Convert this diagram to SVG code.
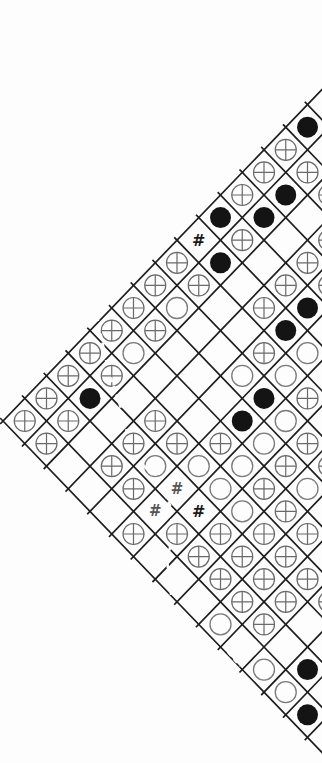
<svg xmlns="http://www.w3.org/2000/svg" xmlns:xlink="http://www.w3.org/1999/xlink" width="322" height="763" viewBox="0 0 322 763">
<style>
.gl{stroke:#1e1e1e;stroke-width:1.7;fill:none;vector-effect:non-scaling-stroke;stroke-linecap:square}
.xc{fill:none;stroke:#6a6a6a;stroke-width:1.2}
.oc{fill:none;stroke:#7a7a7a;stroke-width:1.3}
.fc{fill:#141414}
.hs{font-family:"DejaVu Sans",sans-serif;font-weight:bold;font-size:16px;fill:#1a1a1a;text-anchor:middle;dominant-baseline:central}
.hs2{font-family:"DejaVu Sans",sans-serif;font-weight:bold;font-size:15px;fill:#555;text-anchor:middle;dominant-baseline:central}
.wd{fill:none;stroke:#fdfdfd;stroke-width:2.6;stroke-dasharray:5 4}
</style>
<defs>
<g id="x"><circle r="10.5" class="xc"/><path d="M-10.5 0H10.5M0 -10.5V10.5" class="xc"/></g>
<circle id="o" r="10.5" class="oc"/>
<circle id="f" r="10.5" class="fc"/>
</defs>
<rect width="322" height="763" fill="#fdfdfd"/>
<g id="grid" transform="matrix(21.75,-22.6,21.75,22.6,3,421)">
<path class="gl" d="M-0.1 0H16M-0.1 1H16M-0.1 2H16M-0.1 3H16M-0.1 4H16M-0.1 5H16M-0.1 6H16M-0.1 7H16M-0.1 8H16M-0.1 9H16M-0.1 10H16M-0.1 11H16M-0.1 12H16M-0.1 13H16M-0.1 14H16M-0.1 15H16"/>
<path class="gl" d="M0 -0.1V16M1 -0.1V16M2 -0.1V16M3 -0.1V16M4 -0.1V16M5 -0.1V16M6 -0.1V16M7 -0.1V16M8 -0.1V16M9 -0.1V16M10 -0.1V16M11 -0.1V16M12 -0.1V16M13 -0.1V16M14 -0.1V16M15 -0.1V16"/>
</g>
<g id="crossed">
<use href="#x" x="24.75" y="421"/>
<use href="#x" x="46.5" y="398.4"/>
<use href="#x" x="46.5" y="443.6"/>
<use href="#x" x="68.25" y="375.8"/>
<use href="#x" x="68.25" y="421"/>
<use href="#x" x="90" y="353.2"/>
<use href="#x" x="111.75" y="330.6"/>
<use href="#x" x="111.75" y="375.8"/>
<use href="#x" x="111.75" y="466.2"/>
<use href="#x" x="133.5" y="308"/>
<use href="#x" x="133.5" y="443.6"/>
<use href="#x" x="133.5" y="488.8"/>
<use href="#x" x="133.5" y="534"/>
<use href="#x" x="155.25" y="285.4"/>
<use href="#x" x="155.25" y="330.6"/>
<use href="#x" x="155.25" y="421"/>
<use href="#x" x="177" y="262.8"/>
<use href="#x" x="177" y="443.6"/>
<use href="#x" x="177" y="534"/>
<use href="#x" x="198.75" y="285.4"/>
<use href="#x" x="198.75" y="556.6"/>
<use href="#x" x="220.5" y="443.6"/>
<use href="#x" x="220.5" y="534"/>
<use href="#x" x="220.5" y="579.2"/>
<use href="#x" x="242.25" y="195"/>
<use href="#x" x="242.25" y="240.2"/>
<use href="#x" x="242.25" y="556.6"/>
<use href="#x" x="242.25" y="601.8"/>
<use href="#x" x="264" y="172.4"/>
<use href="#x" x="264" y="308"/>
<use href="#x" x="264" y="353.2"/>
<use href="#x" x="264" y="488.8"/>
<use href="#x" x="264" y="534"/>
<use href="#x" x="264" y="579.2"/>
<use href="#x" x="264" y="624.4"/>
<use href="#x" x="285.75" y="149.8"/>
<use href="#x" x="285.75" y="285.4"/>
<use href="#x" x="285.75" y="466.2"/>
<use href="#x" x="285.75" y="511.4"/>
<use href="#x" x="285.75" y="556.6"/>
<use href="#x" x="285.75" y="601.8"/>
<use href="#x" x="307.5" y="172.4"/>
<use href="#x" x="307.5" y="262.8"/>
<use href="#x" x="307.5" y="398.4"/>
<use href="#x" x="307.5" y="443.6"/>
<use href="#x" x="307.5" y="534"/>
<use href="#x" x="307.5" y="579.2"/>
<use href="#x" x="329.25" y="195"/>
<use href="#x" x="329.25" y="240.2"/>
<use href="#x" x="329.25" y="285.4"/>
<use href="#x" x="329.25" y="466.2"/>
<use href="#x" x="329.25" y="601.8"/>
</g>
<g id="open">
<use href="#o" x="133.5" y="353.2"/>
<use href="#o" x="177" y="308"/>
<use href="#o" x="155.25" y="466.2"/>
<use href="#o" x="198.75" y="466.2"/>
<use href="#o" x="242.25" y="375.8"/>
<use href="#o" x="242.25" y="466.2"/>
<use href="#o" x="220.5" y="488.8"/>
<use href="#o" x="242.25" y="511.4"/>
<use href="#o" x="220.5" y="624.4"/>
<use href="#o" x="264" y="443.6"/>
<use href="#o" x="285.75" y="375.8"/>
<use href="#o" x="285.75" y="421"/>
<use href="#o" x="307.5" y="353.2"/>
<use href="#o" x="307.5" y="488.8"/>
<use href="#o" x="264" y="669.6"/>
<use href="#o" x="285.75" y="692.2"/>
</g>
<g id="filled">
<use href="#f" x="90" y="398.4"/>
<use href="#f" x="220.5" y="217.6"/>
<use href="#f" x="220.5" y="262.8"/>
<use href="#f" x="242.25" y="421"/>
<use href="#f" x="264" y="217.6"/>
<use href="#f" x="264" y="398.4"/>
<use href="#f" x="285.75" y="195"/>
<use href="#f" x="285.75" y="330.6"/>
<use href="#f" x="307.5" y="127.2"/>
<use href="#f" x="307.5" y="308"/>
<use href="#f" x="307.5" y="669.6"/>
<use href="#f" x="307.5" y="714.8"/>
</g>
<g id="artifacts">
<path class="wd" d="M97 316L108 370L120 405L128 436"/>
<path class="wd" d="M143 465L158 480L170 505L173 535L167 560L172 602"/>
<path class="wd" d="M228 652L240 666"/>
</g>
<g id="marks">
<text class="hs" x="198.75" y="240.2">#</text>
<text class="hs" x="198.75" y="511.4">#</text>
<text class="hs2" x="177" y="488.8">#</text>
<text class="hs2" x="155.25" y="511.4">#</text>
</g>
</svg>
